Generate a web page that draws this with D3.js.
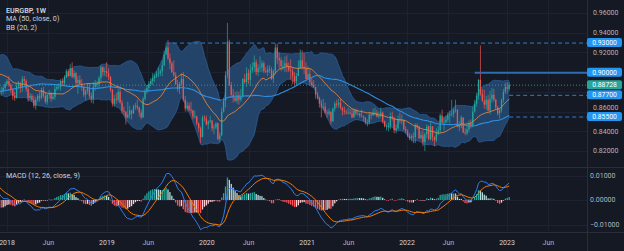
<!DOCTYPE html>
<html>
<head>
<meta charset="utf-8">
<script src="https://cdn.jsdelivr.net/npm/d3@7"></script>
<style>
  html, body { margin: 0; padding: 0; background: #151924; }
  svg { display: block; font-family: Roboto, "DejaVu Sans", sans-serif; }
</style>
</head>
<body>
<div id="chart"></div>
<script>
// weekly EURGBP, prices in 1/10000. warm-up closes are only used for the indicators
const warmupClose = [
  8530, 8480, 8540, 8600,
  8640, 8780, 8700, 8650, 8610,
  8620, 8580, 8530, 8630,
  8690, 8760, 8740, 8660,
  8610, 8580, 8480, 8520,
  8540, 8560, 8660, 8740, 8780,
  8780, 8810, 8770, 8800,
  8820, 8870, 8940, 8930, 8970,
  9040, 9100, 9180, 9150,
  9140, 8960, 8880, 8920,
  8960, 8950, 8980, 8920, 8940,
  8920, 9000, 8970, 8920
];

// [close, high, low] per week, open = previous close
const bars2017 = [[8800,8890,8760],[8810,8850,8760],[8840,8860,8780],[8880,8900,8820]];
const bars2018 = [
  [8910,8930,8860],[8870,8960,8850],[8820,8890,8790],[8760,8840,8720],[8740,8800,8710],
  [8860,8890,8730],[8880,8910,8830],[8840,8900,8790],[8930,8960,8800],
  [8910,8960,8870],[8830,8930,8800],[8740,8850,8700],[8760,8790,8720],
  [8720,8780,8700],[8660,8760,8640],[8720,8750,8620],[8760,8780,8700],[8740,8800,8700],
  [8820,8840,8720],[8760,8850,8740],[8700,8800,8680],[8770,8780,8670],
  [8780,8820,8730],[8730,8800,8700],[8750,8790,8720],[8830,8860,8720],
  [8850,8870,8810],[8850,8890,8820],[8910,8930,8810],[8890,8940,8870],[8950,8970,8870],
  [9010,9030,8940],[8960,9030,8950],[9040,9080,8960],[8950,9100,8940],
  [8990,9020,8930],[8890,9000,8860],[8920,8960,8780],[8880,8970,8870],
  [8850,8930,8810],[8770,8860,8750],[8810,8830,8720],[8840,8890,8780],[8760,8890,8730],
  [8730,8790,8690],[8850,8900,8680],[8880,8920,8810],[8880,8910,8840],
  [8940,8960,8840],[9050,9070,8900],[9000,9060,8960],[9010,9050,8960],[8990,9100,8950]
];
const bars2019 = [
  [8950,9040,8920],[8820,8960,8800],[8680,8830,8650],[8730,8770,8650],
  [8720,8790,8680],[8800,8830,8700],[8690,8830,8680],[8610,8720,8580],
  [8600,8650,8560],[8540,8600,8470],[8570,8700,8530],[8610,8660,8530],
  [8580,8620,8520],[8650,8670,8580],[8660,8690,8620],[8640,8720,8620],[8590,8650,8550],
  [8540,8620,8520],[8730,8750,8540],[8810,8830,8710],[8840,8870,8780],
  [8880,8910,8800],[8910,8940,8860],[8940,8990,8870],[8960,8980,8900],
  [8980,9010,8940],[8990,9050,8950],[9010,9030,8960],[9070,9120,8960],[9180,9220,9060],
  [9250,9290,9170],[9140,9325,9120],[9090,9190,9030],[9000,9110,8990],
  [8970,9120,8950],[8880,9000,8870],[8830,8920,8800],[8880,8900,8780],[8930,8990,8860],
  [8720,9000,8700],[8630,8760,8600],[8660,8700,8600],[8620,8690,8600],
  [8610,8700,8580],[8550,8620,8520],[8550,8610,8530],[8480,8560,8460],
  [8430,8490,8390],[8340,8450,8280],[8540,8560,8340],[8530,8560,8500],[8470,8560,8460]
];
const bars2020 = [
  [8500,8510,8420],[8510,8560,8480],[8430,8510,8400],[8440,8470,8370],
  [8480,8490,8420],[8320,8490,8310],[8360,8390,8280],[8600,8640,8350],
  [8710,8740,8590],[8970,9010,8640],[9310,9500,8940],[8870,9330,8860],[8770,8900,8740],
  [8740,8830,8690],[8710,8800,8700],[8760,8810,8680],[8720,8800,8670],
  [8750,8830,8700],[8930,8940,8740],[8900,8980,8880],[8990,9050,8850],
  [8920,9030,8880],[9020,9080,8860],[9050,9100,8990],[9100,9170,9000],[9000,9130,8970],
  [9040,9080,8960],[9050,9160,9000],[9090,9120,9000],[9010,9110,8990],
  [9000,9050,8990],[9030,9070,8960],[9020,9070,8990],[8930,9050,8920],[9010,9030,8890],
  [9250,9290,8980],[9140,9290,9080],[9120,9200,9040],[9060,9150,9010],
  [9060,9120,9020],[9090,9160,9000],[9060,9170,9000],[9020,9100,9000],
  [9010,9130,8930],[8960,9050,8880],[8910,9000,8870],[8960,8990,8860],[9040,9120,9000],
  [9120,9230,9050],[9050,9220,9030],[9040,9190,8980],[8930,9100,8930]
];
const bars2021 = [
  [8980,9060,8950],[8900,9030,8870],[8870,8940,8860],[8850,8920,8840],
  [8770,8850,8730],[8740,8800,8720],[8680,8750,8640],[8640,8720,8540],
  [8650,8730,8610],[8590,8690,8580],[8580,8620,8540],[8600,8630,8560],[8500,8600,8470],
  [8630,8640,8500],[8680,8700,8600],[8670,8720,8640],[8690,8730,8640],
  [8640,8730,8620],[8610,8650,8560],[8600,8650,8570],[8590,8620,8570],[8590,8640,8570],
  [8580,8630,8570],[8540,8630,8530],[8610,8630,8540],[8580,8630,8560],
  [8580,8620,8560],[8560,8590,8540],[8550,8620,8540],[8540,8560,8500],
  [8490,8540,8470],[8490,8520,8450],[8570,8590,8470],[8560,8590,8520],[8590,8630,8560],
  [8590,8640,8560],[8550,8620,8540],[8560,8600,8530],[8590,8640,8540],
  [8500,8600,8480],[8450,8510,8440],[8450,8470,8410],[8450,8490,8400],
  [8550,8590,8420],[8530,8600,8510],[8410,8550,8380],[8430,8470,8380],[8520,8560,8420],
  [8510,8590,8480],[8510,8570,8470],[8420,8520,8410],[8400,8450,8380]
];
const bars2022 = [
  [8350,8420,8340],[8330,8380,8310],[8350,8370,8300],[8340,8390,8280],[8460,8480,8280],
  [8440,8480,8420],[8330,8460,8320],[8360,8400,8320],[8290,8410,8250],
  [8370,8390,8200],[8450,8470,8330],[8320,8460,8310],[8450,8490,8310],
  [8340,8450,8300],[8310,8350,8250],[8380,8430,8290],[8410,8450,8360],
  [8560,8580,8380],[8490,8620,8470],[8490,8550,8410],[8520,8560,8480],[8560,8590,8490],
  [8570,8610,8480],[8580,8720,8550],[8610,8630,8540],[8620,8720,8590],
  [8450,8620,8440],[8450,8500,8400],[8540,8560,8430],[8390,8440,8380],
  [8380,8430,8360],[8420,8470,8360],[8480,8510,8390],[8450,8520,8430],[8600,8650,8440],
  [8680,8720,8590],[8760,8790,8650],[8920,8930,8720],[8780,9270,8760],
  [8710,8830,8700],[8670,8820,8630],[8720,8760,8620],[8610,8770,8600],[8730,8810,8570],
  [8770,8840,8690],[8720,8830,8700],[8640,8730,8620],[8580,8660,8560],
  [8620,8630,8530],[8720,8730,8590],[8800,8830,8690],[8850,8890,8780]
];
const bars2023 = [[8830,8900,8780],[8872.8,8900,8810]];

const firstWeek = new Date(2016, 11, 5);
const lastPrice = 0.88728;
const priceTicks = [0.82, 0.84, 0.86, 0.88, 0.90, 0.92, 0.94, 0.96];
const macdTicks = [-0.01, 0, 0.01];
const timeTicks = [
  [new Date(2018, 0, 1), "2018"], [new Date(2018, 5, 1), "Jun"],
  [new Date(2019, 0, 1), "2019"], [new Date(2019, 5, 1), "Jun"],
  [new Date(2020, 0, 1), "2020"], [new Date(2020, 5, 1), "Jun"],
  [new Date(2021, 0, 1), "2021"], [new Date(2021, 5, 1), "Jun"],
  [new Date(2022, 0, 1), "2022"], [new Date(2022, 5, 1), "Jun"],
  [new Date(2023, 0, 1), "2023"], [new Date(2023, 5, 1), "Jun"]
];
// drawn horizontal levels: price and the week they start at
const levels = [
  [0.930, new Date(2019, 7, 5)],
  [0.900, new Date(2022, 8, 5)],
  [0.877, new Date(2023, 0, 9)],
  [0.855, new Date(2023, 0, 9)]
];

const width = 624, height = 251;
const plotRight = 587;
const bg = "#151924", grid = "#1e2230", textCol = "#b2b5be";

const visible = [].concat(bars2017, bars2018, bars2019, bars2020, bars2021, bars2022, bars2023);
const closes = warmupClose.concat(visible.map(b => b[0])).map(v => v / 1e4);
const n = closes.length;
const w0 = warmupClose.length;
const dates = d3.range(n).map(i => d3.timeDay.offset(firstWeek, 7 * i));

const candles = visible.map((b, j) => {
  const i = w0 + j;
  const open = closes[i - 1], close = closes[i];
  return {
    date: dates[i], open, close,
    high: Math.max(b[1] / 1e4, open, close),
    low: Math.min(b[2] / 1e4, open, close)
  };
});

function sma(arr, p) {
  return arr.map((_, i) => i < p - 1 ? null : d3.mean(arr.slice(i - p + 1, i + 1)));
}
function ema(arr, p) {
  const k = 2 / (p + 1);
  let prev;
  return arr.map((v, i) => prev = i === 0 ? v : v * k + prev * (1 - k));
}
const ma50 = sma(closes, 50);
const basis = sma(closes, 20);
const dev = closes.map((_, i) => {
  if (i < 19) return null;
  const s = closes.slice(i - 19, i + 1), m = basis[i];
  return Math.sqrt(d3.mean(s, v => (v - m) * (v - m)));
});
const ema12 = ema(closes, 12), ema26 = ema(closes, 26);
const macd = closes.map((_, i) => ema12[i] - ema26[i]);
const signal = ema(macd, 9);
const hist = macd.map((v, i) => v - signal[i]);

const x = d3.scaleTime()
  .domain([new Date(2018, 0, 1), new Date(2023, 0, 1)])
  .range([7, 507]);
const y = d3.scaleLinear().domain([0.82, 0.96]).range([151, 13]);
const ym = d3.scaleLinear().domain([-0.01, 0.01]).range([224.5, 175.5]);

const svg = d3.select("#chart").append("svg")
  .attr("width", width).attr("height", height);

svg.append("rect").attr("width", width).attr("height", height).attr("fill", bg);

const defs = svg.append("defs");
defs.append("clipPath").attr("id", "clipMain")
  .append("rect").attr("x", 0).attr("y", 0).attr("width", plotRight).attr("height", 166);
defs.append("clipPath").attr("id", "clipMacd")
  .append("rect").attr("x", 0).attr("y", 168).attr("width", plotRight).attr("height", 63);

// grid
const gridG = svg.append("g").attr("stroke", grid).attr("stroke-width", 1);
gridG.selectAll(".vg").data(timeTicks).join("line")
  .attr("x1", d => Math.round(x(d[0])) + 0.5).attr("x2", d => Math.round(x(d[0])) + 0.5)
  .attr("y1", 0).attr("y2", 231);
gridG.selectAll(".hg").data(priceTicks).join("line")
  .attr("x1", 0).attr("x2", plotRight)
  .attr("y1", d => Math.round(y(d)) + 0.5).attr("y2", d => Math.round(y(d)) + 0.5);
gridG.selectAll(".mg").data(macdTicks).join("line")
  .attr("x1", 0).attr("x2", plotRight)
  .attr("y1", d => Math.round(ym(d)) + 0.5).attr("y2", d => Math.round(ym(d)) + 0.5);

// main pane
const main = svg.append("g").attr("clip-path", "url(#clipMain)");
const idx = d3.range(w0 - 3, n);

main.append("path")
  .attr("fill", "#234468")
  .attr("d", d3.area()
    .x(i => x(dates[i]))
    .y0(i => y(basis[i] - 2 * dev[i]))
    .y1(i => y(basis[i] + 2 * dev[i]))(idx));

["+", "-"].forEach(s => {
  main.append("path")
    .attr("fill", "none").attr("stroke", "#2a5c9a").attr("stroke-width", 0.8)
    .attr("d", d3.line()
      .x(i => x(dates[i]))
      .y(i => y(basis[i] + (s === "+" ? 2 : -2) * dev[i]))(idx));
});

// candles
const bw = 1.3;
const cg = main.append("g");
cg.selectAll("line").data(candles).join("line")
  .attr("x1", d => x(d.date)).attr("x2", d => x(d.date))
  .attr("y1", d => y(d.high)).attr("y2", d => y(d.low))
  .attr("stroke", d => d.close >= d.open ? "#26a69a" : "#ef5350")
  .attr("stroke-width", 0.7);
cg.selectAll("rect").data(candles).join("rect")
  .attr("x", d => x(d.date) - bw / 2)
  .attr("width", bw)
  .attr("y", d => y(Math.max(d.open, d.close)))
  .attr("height", d => Math.max(0.8, Math.abs(y(d.open) - y(d.close))))
  .attr("fill", d => d.close >= d.open ? "#26a69a" : "#ef5350");

main.append("path")
  .attr("fill", "none").attr("stroke", "#2e8fe0").attr("stroke-width", 1.1)
  .attr("d", d3.line().x(i => x(dates[i])).y(i => y(ma50[i]))(idx));
main.append("path")
  .attr("fill", "none").attr("stroke", "#e8833a").attr("stroke-width", 0.9)
  .attr("d", d3.line().x(i => x(dates[i])).y(i => y(basis[i]))(idx));

// levels
main.selectAll(".lvl").data(levels).join("line")
  .attr("x1", d => x(d[1])).attr("x2", plotRight)
  .attr("y1", d => y(d[0]) + 0.5).attr("y2", d => y(d[0]) + 0.5)
  .attr("stroke", (d, i) => i === 1 ? "#2f6db3" : "#2a7fd4")
  .attr("stroke-width", (d, i) => i === 1 ? 2 : 1)
  .attr("stroke-dasharray", (d, i) => i === 1 ? null : "4,3");

main.append("line")
  .attr("x1", 0).attr("x2", plotRight)
  .attr("y1", y(lastPrice) + 0.5).attr("y2", y(lastPrice) + 0.5)
  .attr("stroke", "#3fa39a").attr("stroke-width", 1)
  .attr("stroke-dasharray", "1,2").attr("opacity", 0.8);

// MACD pane
const mp = svg.append("g").attr("clip-path", "url(#clipMacd)");
const hidx = d3.range(w0 - 2, n);
mp.selectAll("rect").data(hidx).join("rect")
  .attr("x", i => x(dates[i]) - bw / 2)
  .attr("width", bw)
  .attr("y", i => Math.min(ym(0), ym(hist[i])))
  .attr("height", i => Math.max(0.5, Math.abs(ym(hist[i]) - ym(0))))
  .attr("fill", i => {
    const h = hist[i], p = hist[i - 1];
    return h >= 0 ? (h > p ? "#26a69a" : "#b2dfdb") : (h < p ? "#ff5252" : "#ffcdd2");
  });
mp.append("path")
  .attr("fill", "none").attr("stroke", "#2f7ef0").attr("stroke-width", 1)
  .attr("d", d3.line().x(i => x(dates[i])).y(i => ym(macd[i]))(hidx));
mp.append("path")
  .attr("fill", "none").attr("stroke", "#f57c00").attr("stroke-width", 1)
  .attr("d", d3.line().x(i => x(dates[i])).y(i => ym(signal[i]))(hidx));

// separators
const sep = svg.append("g").attr("stroke", "#2a2e39").attr("stroke-width", 1);
sep.append("line").attr("x1", 0).attr("x2", width).attr("y1", 167.5).attr("y2", 167.5);
sep.append("line").attr("x1", 0).attr("x2", width).attr("y1", 232.5).attr("y2", 232.5);
sep.append("line").attr("x1", plotRight + 0.5).attr("x2", plotRight + 0.5).attr("y1", 0).attr("y2", height);

// price axis
const fmt = d3.format(".5f");
const tagH = 9;
const tags = levels.map(d => [d[0], "#2196f3"]).concat([[lastPrice, "#26a69a"]]);
const ax = svg.append("g").attr("font-size", 7).attr("fill", textCol);
// ticks hidden behind a tag are skipped, ticks touching one are nudged away from it
const tickPos = d => {
  const near = tags.find(t => Math.abs(y(t[0]) - y(d)) < tagH);
  if (!near) return y(d);
  return y(d) < y(near[0]) ? y(near[0]) - tagH + 0.5 : y(near[0]) + tagH - 0.5;
};
ax.selectAll(".pt").data(priceTicks.filter(d => !tags.some(t => Math.abs(y(t[0]) - y(d)) < 4))).join("text")
  .attr("x", 593).attr("y", tickPos).attr("dy", "0.35em").text(fmt);
ax.selectAll(".mt").data(macdTicks).join("text")
  .attr("x", 590).attr("y", d => ym(d)).attr("dy", "0.35em").text(fmt);

const tg = svg.append("g");
tags.forEach(([p, c]) => {
  tg.append("rect").attr("x", 587).attr("y", y(p) - tagH / 2).attr("width", 35).attr("height", tagH)
    .attr("rx", 2).attr("fill", c);
  tg.append("text").attr("x", 604.5).attr("y", y(p)).attr("dy", "0.35em")
    .attr("text-anchor", "middle").attr("font-size", 6.8).attr("fill", "#ffffff").text(fmt(p));
});

// time axis
svg.append("g").attr("font-size", 7).attr("text-anchor", "middle")
  .selectAll("text").data(timeTicks).join("text")
  .attr("x", d => x(d[0])).attr("y", 243).attr("dy", "0.35em")
  .attr("fill", d => d[1] === "Jun" ? textCol : "#d1d4dc")
  .text(d => d[1]);

// legends
const lg = svg.append("g").attr("font-size", 7.2).attr("fill", "#d1d4dc");
lg.append("text").attr("x", 6).attr("y", 10).attr("dy", "0.35em").attr("font-weight", 600).text("EURGBP, 1W");
lg.append("text").attr("x", 6).attr("y", 18.5).attr("dy", "0.35em").text("MA (50, close, 0)");
lg.append("text").attr("x", 6).attr("y", 27).attr("dy", "0.35em").text("BB (20, 2)");
lg.append("text").attr("x", 6).attr("y", 175.5).attr("dy", "0.35em").text("MACD (12, 26, close, 9)");
</script>
</body>
</html>
